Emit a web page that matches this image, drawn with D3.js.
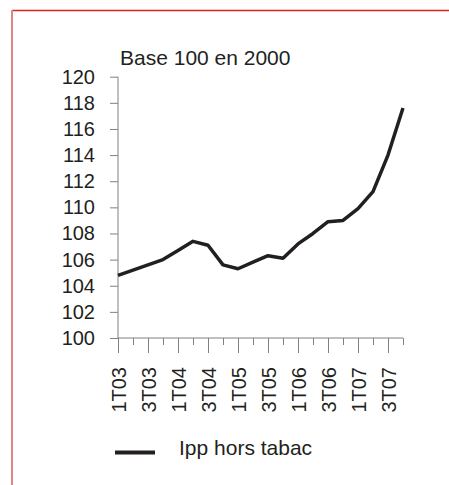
<!DOCTYPE html>
<html>
<head>
<meta charset="utf-8">
<script src="https://cdn.jsdelivr.net/npm/d3@7"></script>
<style>
  body { margin:0; background:#fff; }
  svg text { font-family:"Liberation Sans", Arial, sans-serif; fill:#231f20; }
</style>
</head>
<body>
<svg id="chart" width="449" height="485"></svg>
<script>
// quarters 1T03 .. 4T07
var quarters = ['1T03','2T03','3T03','4T03','1T04','2T04','3T04','4T04','1T05','2T05',
                '3T05','4T05','1T06','2T06','3T06','4T06','1T07','2T07','3T07','4T07'];
var ippValues = [104.8,105.2,105.6,106.0,106.7,107.4,107.1,105.6,105.3,105.8,
                 106.3,106.1,107.2,108.0,108.9,109.0,109.9,111.2,114.0,117.6];
var yTicks = [100,102,104,106,108,110,112,114,116,118,120];
var xLabels = ['1T03','3T03','1T04','3T04','1T05','3T05','1T06','3T06','1T07','3T07'];
var titleText = 'Base 100 en 2000';
var legendText = 'Ipp hors tabac';

var svg = d3.select('#chart');

// red frame (only top and left edges show)
svg.append('line').attr('x1',12).attr('y1',10.5).attr('x2',449).attr('y2',10.5)
	.style('stroke','#d8241c').style('stroke-width',1.5);
svg.append('line').attr('x1',12).attr('y1',10).attr('x2',12).attr('y2',485)
	.style('stroke','#de8585').style('stroke-width',2);

var x = d3.scalePoint().domain(quarters).range([118, 403]);
var y = d3.scaleLinear().domain([100, 120]).range([338, 76.7]);

var axisCol = '#808080';

var yAxis = svg.append('g').attr('transform','translate(118,0)')
	.call(d3.axisLeft(y).tickValues(yTicks).tickSize(8).tickPadding(15));
yAxis.selectAll('text').style('font-size','20px').style('font-family','"Liberation Sans", Arial, sans-serif').attr('fill','#231f20');

var xAxis = svg.append('g').attr('transform','translate(0,338)')
	.call(d3.axisBottom(x).tickSize(7).tickFormat(function(d) { return xLabels.indexOf(d) >= 0 ? d : ''; }));
// long ticks under labelled quarters
xAxis.selectAll('.tick line').attr('y2', function(d) { return xLabels.indexOf(d) >= 0 ? 15 : 7; });
xAxis.selectAll('.tick text')
	.style('font-size','20px').style('font-family','"Liberation Sans", Arial, sans-serif').attr('fill','#231f20')
	.attr('text-anchor','end').attr('transform','rotate(-90)')
	.attr('x',-29).attr('y',0).attr('dy','0.36em');

svg.selectAll('.domain, .tick line').attr('stroke', axisCol).attr('stroke-width',1);
yAxis.select('.domain').attr('d','M0,76.7V338');
xAxis.select('.domain').attr('d','M118,0H403');

var line = d3.line().x(function(d,i) { return x(quarters[i]); }).y(function(d) { return y(d); });
svg.append('path').datum(ippValues).attr('d', line)
	.attr('fill','none').attr('stroke','#231f20').attr('stroke-width',3.5).attr('stroke-linejoin','round');

svg.append('text').attr('x',120).attr('y',65).style('font-size','21px').text(titleText);

// legend
svg.append('line').attr('x1',115).attr('x2',155).attr('y1',452.5).attr('y2',452.5)
	.attr('stroke','#231f20').attr('stroke-width',4);
svg.append('text').attr('x',179).attr('y',455).style('font-size','21px').text(legendText);
</script>
</body>
</html>
